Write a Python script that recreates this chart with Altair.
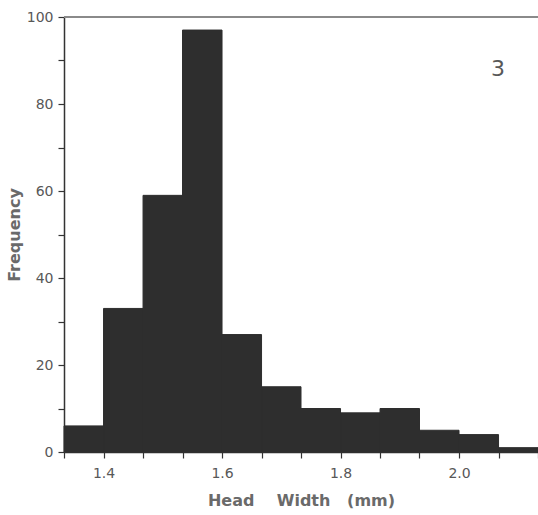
import altair as alt
import pandas as pd

# Head width classes (mm): lower and upper edges of each bin
bin_start = [1.3333, 1.4, 1.4667, 1.5333, 1.6, 1.6667, 1.7333, 1.8, 1.8667, 1.9333, 2.0, 2.0667]
bin_end = [1.4, 1.4667, 1.5333, 1.6, 1.6667, 1.7333, 1.8, 1.8667, 1.9333, 2.0, 2.0667, 2.1333]
frequency = [6, 33, 59, 97, 27, 15, 10, 9, 10, 5, 4, 1]

x_ticks = [1.3333, 1.4, 1.4667, 1.5333, 1.6, 1.6667, 1.7333, 1.8, 1.8667, 1.9333, 2.0, 2.0667, 2.1333]
x_labels = ["1.4", "1.6", "1.8", "2.0"]
y_ticks = [0, 10, 20, 30, 40, 50, 60, 70, 80, 90, 100]

panel_label = "3"

df = pd.DataFrame({"start": bin_start, "end": bin_end, "freq": frequency})

FONT = "DejaVu Sans"
INK = "#2e2e2e"
TEXT = "#585858"

x_scale = alt.Scale(domain=[1.3333, 2.1333], nice=False, zero=False)
y_scale = alt.Scale(domain=[0, 100], nice=False)

label_list = "[" + ",".join("'" + s + "'" for s in x_labels) + "]"
gap = "\u00a0" * 4

bars = alt.Chart(df).mark_bar(color=INK, stroke=INK, strokeWidth=1).encode(
    x=alt.X(
        "start:Q",
        scale=x_scale,
        axis=alt.Axis(
            values=x_ticks,
            tickCount=30,
            labelExpr=f"indexof({label_list}, format(datum.value, '.1f')) >= 0 && abs(datum.value*10 - round(datum.value*10)) < 0.01 ? format(datum.value, '.1f') : ''",
            labelOverlap=False,
            labelFlush=False,
            title=f"Head{gap}Width{gap[:3]}(mm)",
        ),
    ),
    x2="end:Q",
    y=alt.Y(
        "freq:Q",
        scale=y_scale,
        axis=alt.Axis(
            values=y_ticks,
            tickCount=30,
            labelExpr="datum.value % 20 == 0 ? datum.label : ''",
            labelOverlap=False,
            labelFlush=False,
            title="Frequency",
        ),
    ),
    y2=alt.datum(0),
)

top_rule = alt.Chart(df).mark_rule(color="#8a8a8a", strokeWidth=2).encode(
    y=alt.datum(100, scale=y_scale)
)

tag = alt.Chart(pd.DataFrame({"x": [2.066], "y": [88], "t": [panel_label]})).mark_text(
    font=FONT, fontSize=22, color=TEXT
).encode(
    x=alt.X("x:Q", scale=x_scale),
    y=alt.Y("y:Q", scale=y_scale),
    text="t:N",
)

chart = (
    alt.layer(top_rule, bars, tag)
    .properties(
        width=474,
        height=435,
        padding={"left": 64, "top": 17, "right": 0, "bottom": 63},
        autosize=alt.AutoSizeParams(type="none"),
        background="white",
    )
    .configure_view(stroke=None)
    .configure_axis(
        grid=False,
        domainColor="#333333",
        domainWidth=1.5,
        tickColor="#333333",
        tickWidth=1.2,
        tickSize=6,
        labelFont=FONT,
        labelFontSize=14,
        labelColor=TEXT,
        titleFont=FONT,
        titleFontWeight="bold",
        titleColor="#6a6a6a",
    )
    .configure_axisX(labelPadding=8, titlePadding=12, titleFontSize=16)
    .configure_axisY(labelPadding=5, titlePadding=4, titleFontSize=16)
)

chart.save("out.html", embed_options={"renderer": "svg", "actions": False})
